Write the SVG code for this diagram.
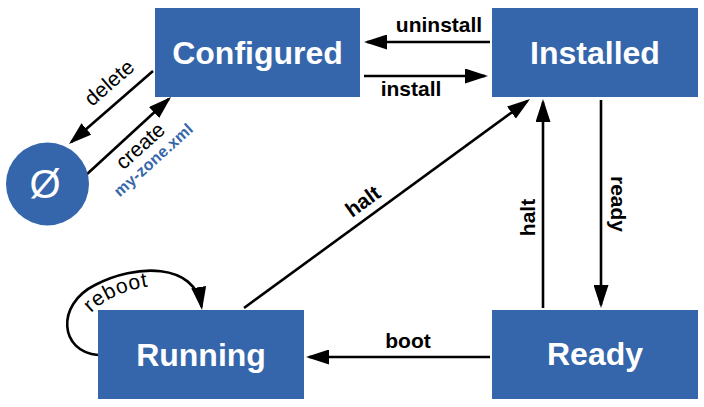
<svg xmlns="http://www.w3.org/2000/svg" width="704" height="407" viewBox="0 0 704 407">
<style>
.box{fill:#3566ab;}
.title{font-family:"Liberation Sans",Arial,sans-serif;font-weight:bold;font-size:32px;fill:#ffffff;text-anchor:middle;}
.lbl{font-family:"Liberation Sans",Arial,sans-serif;font-weight:bold;font-size:21px;fill:#000000;text-anchor:middle;}
.lblr{font-family:"Liberation Sans",Arial,sans-serif;font-size:21px;fill:#000000;text-anchor:middle;}
.file{font-family:"Liberation Sans",Arial,sans-serif;font-weight:bold;font-size:16px;fill:#3566ab;text-anchor:middle;}
.edge{fill:none;stroke:#000000;stroke-width:2.6;marker-end:url(#arr);}
</style>
<defs>
<marker id="arr" viewBox="0 0 23 15" refX="20" refY="7.5" markerWidth="23" markerHeight="15" markerUnits="userSpaceOnUse" orient="auto">
<path d="M0,0 L23,7.5 L0,15 z" fill="#000000"/>
</marker>
</defs>
<rect width="704" height="407" fill="#ffffff"/>
<g id="connectors">
<path class="edge" d="M490,42 H367"/>
<path class="edge" d="M364,76 H485"/>
<path class="edge" d="M601,100 V305"/>
<path class="edge" d="M543,308 V102"/>
<path class="edge" d="M490,357 H309"/>
<path class="edge" d="M244,308 L527.6,100.8"/>
<path class="edge" d="M153,71 L71.3,142"/>
<path class="edge" d="M86,175 L168.8,99"/>
<path class="edge" d="M98,355 C60,352 55,305 95,285 C135,264 195,262 201.6,307"/>
<text class="lbl" x="439" y="32">uninstall</text>
<text class="lbl" x="411" y="96">install</text>
<text class="lbl" x="408" y="348">boot</text>
<text class="lbl" transform="translate(611,204) rotate(90)">ready</text>
<text class="lbl" transform="translate(535,217.5) rotate(-90)">halt</text>
<text class="lbl" transform="translate(367,207) rotate(-36)">halt</text>
<text class="lblr" transform="translate(114,88) rotate(-41)" textLength="58" lengthAdjust="spacing">delete</text>
<text class="lblr" transform="translate(145,151) rotate(-42)" textLength="58" lengthAdjust="spacing">create</text>
<text class="file" transform="translate(157,164) rotate(-42)" textLength="100" lengthAdjust="spacing">my-zone.xml</text>
<path id="rebootPath" d="M91,313 Q115,289 160,285" fill="none"/>
<text class="lblr" style="text-anchor:start"><textPath href="#rebootPath" textLength="64" lengthAdjust="spacing">reboot</textPath></text>
</g>
<g id="node-empty">
<circle cx="47.5" cy="184" r="41.5" class="box"/>
<text x="45" y="198" style="font-family:'Liberation Sans',Arial,sans-serif;font-size:40px;fill:#ffffff;text-anchor:middle">Ø</text>
</g>
<g id="node-configured">
<rect class="box" x="155" y="8" width="205" height="89"/>
<text class="title" x="257.5" y="64">Configured</text>
</g>
<g id="node-installed">
<rect class="box" x="492" y="8" width="206" height="89"/>
<text class="title" x="595" y="64">Installed</text>
</g>
<g id="node-running">
<rect class="box" x="98" y="310" width="206" height="89"/>
<text class="title" x="201" y="366">Running</text>
</g>
<g id="node-ready">
<rect class="box" x="492" y="310" width="206" height="89"/>
<text class="title" x="595" y="365">Ready</text>
</g>
</svg>
